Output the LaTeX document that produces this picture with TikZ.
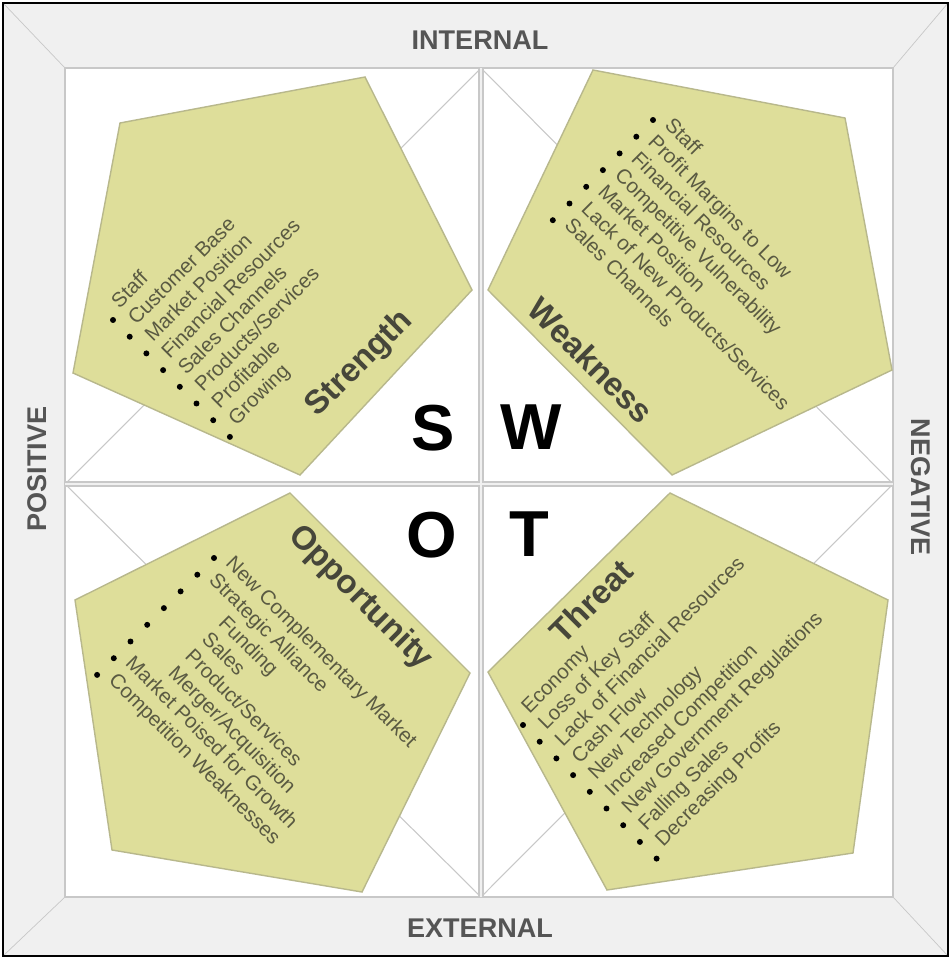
\documentclass[tikz,border=0pt]{standalone}
\usepackage{fontspec}
\setmainfont{Liberation Sans}
\definecolor{padfill}{RGB}{222,222,154}
\definecolor{padline}{RGB}{184,184,140}
\definecolor{itemtext}{RGB}{90,90,66}
\definecolor{headtext}{RGB}{70,70,58}
\definecolor{bandgray}{RGB}{240,240,240}
\definecolor{edgegray}{RGB}{200,200,200}
\definecolor{labelgray}{RGB}{85,85,85}

\begin{document}
\begin{tikzpicture}[x=0.02cm, y=-0.02cm,
    pad/.style={fill=padfill, draw=padline, line width=0.8pt},
    item/.style={text=itemtext, font=\fontsize{11.7}{13}\selectfont, inner sep=0pt, anchor=base west},
    head/.style={text=headtext, font=\bfseries\fontsize{18.8}{20}\selectfont, inner sep=0pt},
    letter/.style={font=\bfseries\fontsize{37}{40}\selectfont, inner sep=0pt},
    side/.style={text=labelgray, font=\bfseries\fontsize{15.4}{16}\selectfont, inner sep=0pt}]
    \useasboundingbox (0,0) rectangle (951,959);

    \fill[bandgray] (3,3) rectangle (948,956);
    \fill[white] (65,68) rectangle (893,897);
    \draw[edgegray, line width=0.8pt] (65,68) rectangle (893,897);
    \draw[edgegray] (3,3) -- (65,68) (948,3) -- (893,68) (3,956) -- (65,897) (948,956) -- (893,897);
    \draw[black, line width=1.5pt] (3,3) rectangle (948,956);

    \coordinate (top) at (481,68);
    \coordinate (rgt) at (893,484);
    \coordinate (bot) at (481,897);
    \coordinate (lft) at (65,484);
    \draw[edgegray, line width=0.6pt] (top) -- (rgt) -- (bot) -- (lft) -- cycle;
    \draw[edgegray, line width=3.4pt] (top) -- (bot) (lft) -- (rgt);
    \draw[bandgray, line width=1.2pt] (top) -- (bot) (lft) -- (rgt);

    \node[side] (int) at (480,40) {INTERNAL};
    \node[side] (ext) at (480,928) {EXTERNAL};
    \node[side, rotate=90] (pos) at (37,469) {POSITIVE};
    \node[side, rotate=-90] (neg) at (921,487) {NEGATIVE};

    \draw[pad] (120,123) -- (365,77) -- (472,290) -- (300,475) -- (73,373) -- cycle;
    \draw[pad] (593,70) -- (845,118) -- (892,370) -- (672,475) -- (488,290) -- cycle;
    \draw[pad] (290,493) -- (470,673) -- (362,892) -- (112,850) -- (75,600) -- cycle;
    \draw[pad] (670,493) -- (888,600) -- (853,853) -- (607,890) -- (488,672) -- cycle;

    \coordinate (sStart) at (113,320);
    \foreach \t [count=\i from 0] in {Staff, Customer Base, Market Position, Financial Resources, Sales Channels, Products/Services, Profitable, Growing}{
        \fill ([shift={(16.7*\i,16.7*\i)}]sStart) circle (1.7pt);
        \path ([shift={(16.7*\i+6.4,16.7*\i-10.6)}]sStart) node[item, rotate=45] (s\i) {\t};
    }
    \coordinate (wStart) at (653,120);
    \foreach \t [count=\i from 0] in {Staff, Profit Margins to Low, Financial Resources, Competitive Vulnerability, Market Position, Lack of New Products/Services, Sales Channels}{
        \fill ([shift={(-16.7*\i,16.7*\i)}]wStart) circle (1.7pt);
        \path ([shift={(-16.7*\i+10.6,16.7*\i+6.4)}]wStart) node[item, rotate=-45] (w\i) {\t};
    }
    \coordinate (oStart) at (214,558);
    \foreach \t [count=\i from 0] in {New Complementary Market, Strategic Alliance, \hspace*{21pt}Funding, \hspace*{21pt}Sales, \hspace*{21pt}Product/Services, \hspace*{21pt}Merger/Acquisition, Market Poised for Growth, Competition Weaknesses}{
        \fill ([shift={(-16.7*\i,16.7*\i)}]oStart) circle (1.7pt);
        \path ([shift={(-16.7*\i+10.6,16.7*\i+6.4)}]oStart) node[item, rotate=-45] (o\i) {\t};
    }
    \coordinate (tStart) at (523,725);
    \foreach \t [count=\i from 0] in {Economy, Loss of Key Staff, Lack of Financial Resources, Cash Flow, New Technology, Increased Competition, New Government Regulations, Falling Sales, Decreasing Profits}{
        \fill ([shift={(16.7*\i,16.7*\i)}]tStart) circle (1.7pt);
        \path ([shift={(16.7*\i+6.4,16.7*\i-10.6)}]tStart) node[item, rotate=45] (t\i) {\t};
    }

    \node[head, rotate=45] (sT) at (360,364) {Strength};
    \node[head, rotate=-45] (wT) at (591,360) {Weakness};
    \node[head, rotate=-45] (oT) at (360,598) {Opportunity};
    \node[head, rotate=45] (tT) at (591,601) {Threat};

    \node[letter] (S) at (433,428) {S};
    \node[letter] (W) at (531,427) {W};
    \node[letter] (O) at (432,535) {O};
    \node[letter] (T) at (529,534) {T};
\end{tikzpicture}
\end{document}
